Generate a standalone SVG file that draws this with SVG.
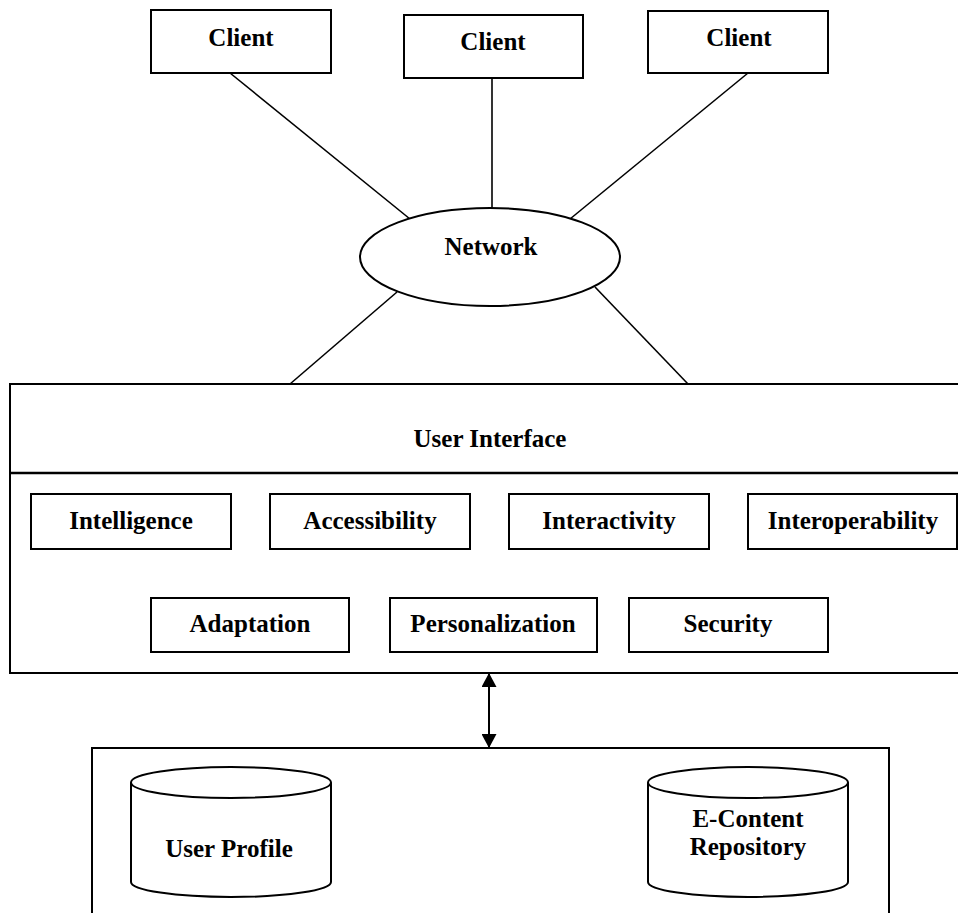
<svg xmlns="http://www.w3.org/2000/svg" width="958" height="913" viewBox="0 0 958 913">
<style>
.b{fill:#fff;stroke:#000;stroke-width:2}
.t{font-family:"Liberation Serif","Times New Roman",serif;font-weight:bold;font-size:25px;fill:#000;text-anchor:middle}
.l{stroke:#000;stroke-width:1.6;fill:none}
</style>
<defs>
<marker id="ah" viewBox="0 0 14 15" refX="14" refY="7.5" markerWidth="14" markerHeight="15" markerUnits="userSpaceOnUse" orient="auto-start-reverse">
<path d="M0,0 L14,7.5 L0,15 Z" fill="#000"/>
</marker>
</defs>
<rect width="958" height="913" fill="#fff"/>
<g id="connectors">
<line class="l" x1="230" y1="73" x2="410" y2="219"/>
<line class="l" x1="492" y1="78" x2="492" y2="208"/>
<line class="l" x1="748" y1="73" x2="570" y2="219"/>
<line class="l" x1="397" y1="292" x2="290" y2="384"/>
<line class="l" x1="595" y1="287" x2="688" y2="384"/>
<line x1="489" y1="673" x2="489" y2="748" stroke="#000" stroke-width="2" marker-start="url(#ah)" marker-end="url(#ah)"/>
</g>
<g id="client1"><rect class="b" x="151" y="10" width="180" height="63"/><text class="t" x="241" y="46">Client</text></g>
<g id="client2"><rect class="b" x="404" y="15" width="179" height="63"/><text class="t" x="493" y="50">Client</text></g>
<g id="client3"><rect class="b" x="648" y="11" width="180" height="62"/><text class="t" x="739" y="46">Client</text></g>
<g id="network"><ellipse class="b" cx="490" cy="257" rx="130" ry="49"/><text class="t" x="491" y="255">Network</text></g>
<g id="user-interface">
<rect class="b" x="10" y="384" width="952" height="289"/>
<line x1="10" y1="473" x2="960" y2="473" stroke="#000" stroke-width="2.5"/>
<text class="t" x="490" y="447">User Interface</text>
</g>
<g id="intelligence"><rect class="b" x="31" y="494" width="200" height="55"/><text class="t" x="131" y="529">Intelligence</text></g>
<g id="accessibility"><rect class="b" x="270" y="494" width="200" height="55"/><text class="t" x="370" y="529">Accessibility</text></g>
<g id="interactivity"><rect class="b" x="509" y="494" width="200" height="55"/><text class="t" x="609" y="529">Interactivity</text></g>
<g id="interoperability"><rect class="b" x="748" y="494" width="209" height="55"/><text class="t" x="853" y="529">Interoperability</text></g>
<g id="adaptation"><rect class="b" x="151" y="598" width="198" height="54"/><text class="t" x="250" y="632">Adaptation</text></g>
<g id="personalization"><rect class="b" x="390" y="598" width="207" height="54"/><text class="t" x="493" y="632">Personalization</text></g>
<g id="security"><rect class="b" x="629" y="598" width="199" height="54"/><text class="t" x="728" y="632">Security</text></g>
<g id="storage"><rect class="b" x="92" y="748" width="797" height="180"/></g>
<g id="user-profile">
<path class="b" d="M131,782.5 L131,882 A100,15 0 0 0 331,882 L331,782.5"/>
<ellipse class="b" cx="231" cy="782.5" rx="100" ry="15.5"/>
<text class="t" x="229" y="857">User Profile</text>
</g>
<g id="e-content">
<path class="b" d="M648,782.5 L648,882 A100,15 0 0 0 848,882 L848,782.5"/>
<ellipse class="b" cx="748" cy="782.5" rx="100" ry="15.5"/>
<text class="t" x="748" y="827">E-Content</text>
<text class="t" x="748" y="855">Repository</text>
</g>
</svg>
